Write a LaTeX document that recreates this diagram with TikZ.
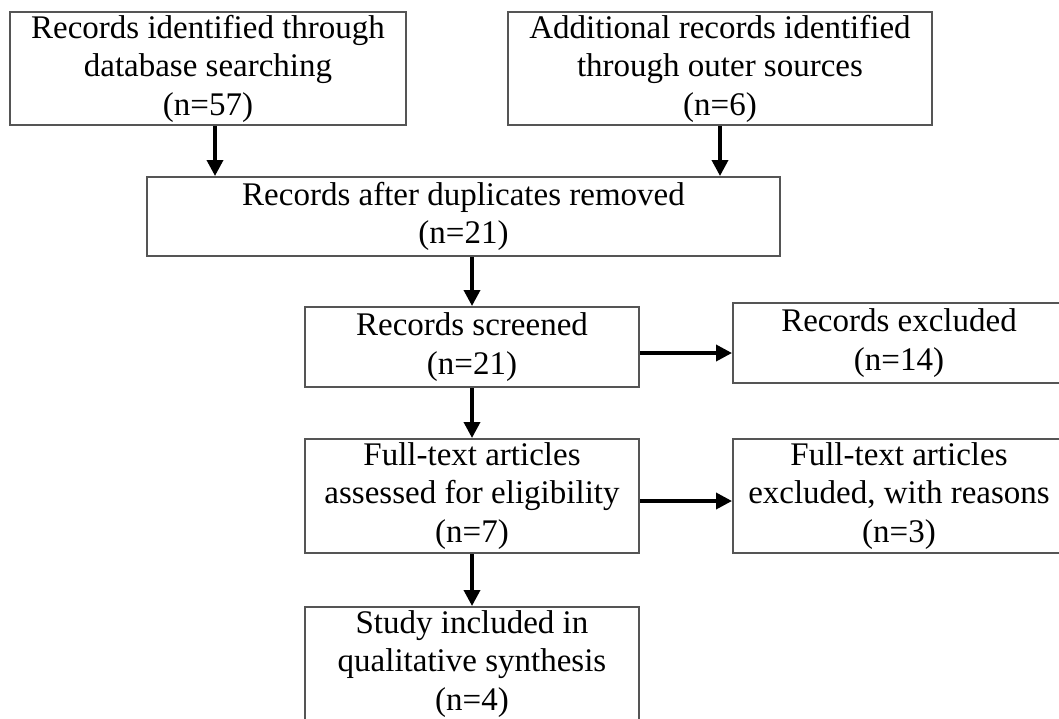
\documentclass[tikz,border=0pt]{standalone}
\usepackage{fontspec}
\setmainfont{Liberation Serif}
\usetikzlibrary{arrows.meta}
\definecolor{boxline}{RGB}{85,85,85}
\tikzset{
  flowbox/.style={draw=boxline, line width=2pt, rectangle, inner sep=0pt, align=center,
    font=\fontsize{33}{38.5}\selectfont, text=black},
  arr/.style={line width=3.6pt, -{Triangle[length=16pt,width=16pt]}}
}
\begin{document}
\begin{tikzpicture}[x=1pt,y=-1pt]
\useasboundingbox (0,0) rectangle (1059,718);
\clip (0,0) rectangle (1059,718);
\fill[white] (0,0) rectangle (1059,718);
\node[flowbox, minimum width=396pt, minimum height=113pt] (b1) at (208,68.5)
  {Records identified through\\database searching\\(n=57)};
\node[flowbox, minimum width=424pt, minimum height=113pt] (b2) at (720,68.5)
  {Additional records identified\\through outer sources\\(n=6)};
\node[flowbox, minimum width=633pt, minimum height=79pt] (b3) at (463.5,216.5)
  {Records after duplicates removed\\(n=21)};
\node[flowbox, minimum width=334pt, minimum height=80pt] (b4) at (472,347)
  {Records screened\\(n=21)};
\node[flowbox, minimum width=332pt, minimum height=80pt] (b5) at (899,343)
  {Records excluded\\(n=14)};
\node[flowbox, minimum width=334pt, minimum height=114pt] (b6) at (472,496)
  {Full-text articles\\assessed for eligibility\\(n=7)};
\node[flowbox, minimum width=332pt, minimum height=114pt] (b7) at (899,496)
  {Full-text articles\\excluded, with reasons\\(n=3)};
\node[flowbox, minimum width=334pt, minimum height=114pt] (b8) at (472,664)
  {Study included in\\qualitative synthesis\\(n=4)};
\draw[arr] ([xshift=7pt]b1.south) -- ([xshift=7pt]b1.south |- b3.north);
\draw[arr] (b2.south) -- (b2.south |- b3.north);
\draw[arr] (b4.north |- b3.south) -- (b4.north);
\draw[arr] ([yshift=-6pt]b4.east) -- ([yshift=-6pt]b4.east -| b5.west);
\draw[arr] (b4.south) -- (b6.north);
\draw[arr] ([yshift=-5pt]b6.east) -- ([yshift=-5pt]b6.east -| b7.west);
\draw[arr] (b6.south) -- (b8.north);
\end{tikzpicture}
\end{document}
